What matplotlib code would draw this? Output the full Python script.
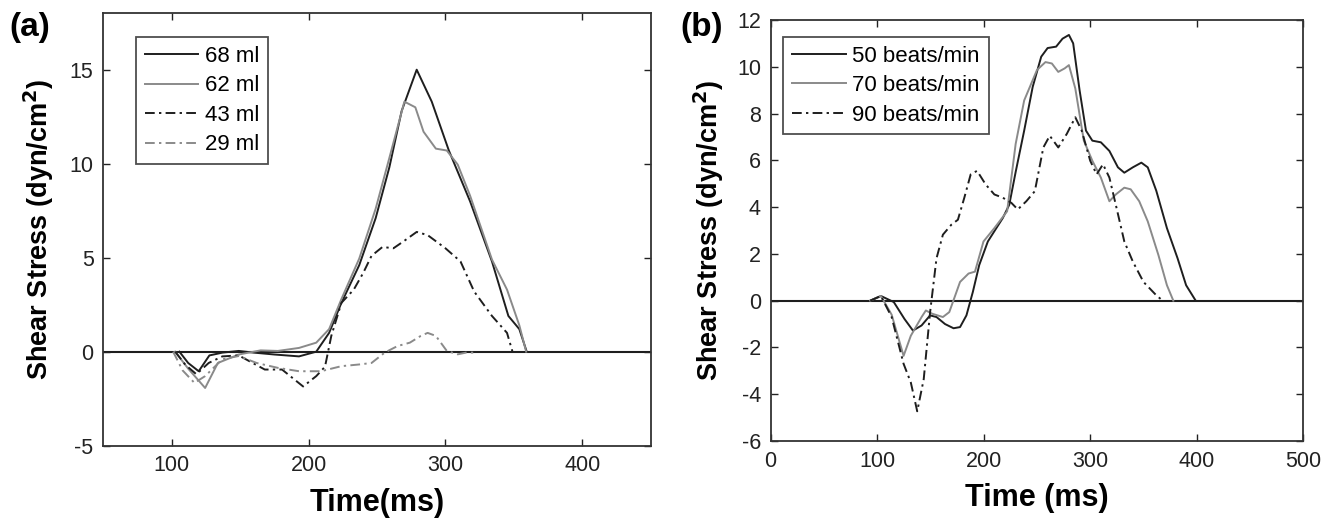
import matplotlib
matplotlib.use("Agg")
import matplotlib.pyplot as plt

plt.rcParams['font.family'] = ['Liberation Sans', 'DejaVu Sans']
plt.rcParams['axes.unicode_minus'] = False

# ---------------- Panel (a) data ----------------
t68 = [105.6, 112, 119.7, 127.5, 137, 149, 160, 175, 193, 205.6, 215, 224, 237, 249, 259, 268, 279,
       290, 302.5, 318, 334, 346, 354, 359.4]
s68 = [0.0, -0.6, -1.04, -0.2, -0.05, 0.04, -0.05, -0.15, -0.25, 0.0, 1.0, 2.6, 4.6, 7.1, 9.8, 12.8, 15.0,
       13.3, 10.7, 8.0, 4.8, 1.9, 1.2, 0.0]

t62 = [102.5, 112, 124.4, 133.7, 149, 165, 177.5, 193, 205.6, 215, 224, 237, 249, 259, 270, 278, 284,
       293, 301, 309, 318, 334, 345, 354, 359]
s62 = [0.0, -0.9, -1.93, -0.6, -0.15, 0.07, 0.04, 0.2, 0.48, 1.2, 2.8, 4.95, 7.6, 10.3, 13.3, 13.0, 11.7,
       10.8, 10.7, 9.95, 8.3, 4.9, 3.3, 1.4, 0.0]

t43 = [102.5, 110, 118, 127, 137, 149, 168, 180.6, 190, 196, 205.6, 212, 216.6, 224, 233, 240, 246, 254,
       262, 270, 279, 287, 300, 311, 321, 334, 345, 349]
s43 = [0.0, -0.7, -1.2, -0.6, -0.25, -0.2, -0.95, -0.95, -1.5, -1.85, -1.3, -0.8, 0.84, 2.6, 3.3, 4.2,
       5.1, 5.57, 5.5, 5.9, 6.37, 6.2, 5.5, 4.8, 3.2, 1.9, 1.0, 0.0]

t29 = [101, 108, 116.6, 124.4, 137, 149, 162, 177.5, 193, 209, 224, 237, 246, 255.6, 265, 274, 282, 287,
       293, 301, 309, 315, 323]
s29 = [0.0, -1.0, -1.66, -1.3, -0.4, -0.23, -0.6, -0.86, -1.04, -1.04, -0.77, -0.68, -0.6, -0.05, 0.3,
       0.48, 0.84, 1.0, 0.84, 0.04, -0.14, -0.05, -0.05]

labels_a = ['68 ml', '62 ml', '43 ml', '29 ml']

# ---------------- Panel (b) data ----------------
t50 = [93.5, 103.5, 115.6, 125.6, 133.6, 141.7, 149.7, 155.7, 163.7, 171.7, 177.8, 183.8, 189.8, 195.8,
       203.9, 209.9, 217.9, 224, 230, 238, 246, 254, 260, 268, 274, 280, 284, 290, 296, 302, 310, 318,
       326, 332, 340, 348, 354, 362, 372, 382, 390, 399]
s50 = [0.0, 0.2, -0.06, -0.78, -1.28, -1.06, -0.63, -0.7, -1.0, -1.18, -1.13, -0.63, 0.37, 1.52,
       2.53, 2.96, 3.53, 4.1, 5.5, 7.27, 9.14, 10.43, 10.8, 10.86, 11.2, 11.36, 11.0, 9.0, 7.27, 6.84,
       6.77, 6.4, 5.7, 5.47, 5.7, 5.9, 5.7, 4.7, 3.1, 1.81, 0.66, 0.0]

t70 = [93.5, 103.5, 113.6, 124.8, 131.6, 141.7, 145.7, 151.7, 161.7, 167.7, 177.8, 185.8, 191.8, 199.8,
       210, 222, 230, 238, 250, 258, 264, 270, 276, 280, 286, 294, 302, 310, 318, 324, 332, 338, 346,
       354, 364, 372, 378]
s70 = [0.0, 0.2, -0.6, -2.36, -1.5, -0.7, -0.42, -0.56, -0.7, -0.49, 0.8, 1.16, 1.24, 2.53,
       3.1, 3.82, 6.7, 8.56, 9.86, 10.2, 10.14, 9.78, 9.93, 10.07, 9.07, 6.84, 5.98, 5.26, 4.25, 4.54,
       4.83, 4.76, 4.25, 3.39, 1.95, 0.66, 0.0]

t90 = [93.5, 103.5, 113.6, 124.8, 131.6, 137.6, 143.7, 149.7, 155.7, 161.7, 169.7, 175.8, 181.8, 187.8,
       193.8, 201.8, 210, 218, 226, 232, 240, 248, 256, 262, 270, 278, 286, 292, 300, 306, 312, 318,
       324, 332, 340, 350, 362, 368]
s90 = [0.0, 0.2, -0.7, -2.7, -3.5, -4.73, -3.36, -0.49, 1.81, 2.82, 3.25, 3.46, 4.4, 5.4,
       5.55, 4.97, 4.54, 4.4, 4.18, 3.9, 4.25, 4.68, 6.55, 7.05, 6.55, 7.13, 7.84, 7.27, 5.98, 5.4,
       5.83, 5.26, 4.1, 2.53, 1.67, 0.8, 0.23, 0.0]

labels_b = ['50 beats/min', '70 beats/min', '90 beats/min']

DARK = '#1e1e1e'
GRAY = '#8a8a8a'
DASHDOT = (0, (5, 2.2, 1.2, 2.2))

fig = plt.figure(figsize=(13.4, 5.27), dpi=100)
axa = fig.add_axes([0.0771, 0.1543, 0.4085, 0.8205])
axb = fig.add_axes([0.5751, 0.1632, 0.3975, 0.7989])

for ax in (axa, axb):
    ax.axhline(0, color=DARK, lw=1.5, zorder=1)

axa.plot(t68, s68, color=DARK, lw=1.4, label=labels_a[0])
axa.plot(t62, s62, color=GRAY, lw=1.4, label=labels_a[1])
axa.plot(t43, s43, color=DARK, lw=1.4, ls=DASHDOT, label=labels_a[2])
axa.plot(t29, s29, color=GRAY, lw=1.4, ls=DASHDOT, label=labels_a[3])

axb.plot(t50, s50, color=DARK, lw=1.4, label=labels_b[0])
axb.plot(t70, s70, color=GRAY, lw=1.4, label=labels_b[1])
axb.plot(t90, s90, color=DARK, lw=1.4, ls=DASHDOT, label=labels_b[2])

axa.set_xlim(50, 450)
axa.set_ylim(-5, 18)
axa.set_xticks([100, 200, 300, 400])
axa.set_yticks([-5, 0, 5, 10, 15])

axb.set_xlim(0, 500)
axb.set_ylim(-6, 12)
axb.set_xticks([0, 100, 200, 300, 400, 500])
axb.set_yticks([-6, -4, -2, 0, 2, 4, 6, 8, 10, 12])

for ax in (axa, axb):
    ax.tick_params(direction='in', top=True, right=True, length=5, width=1.0,
                   labelsize=15.5, colors='#222222', pad=7)
    for sp in ax.spines.values():
        sp.set_linewidth(1.3)
        sp.set_color('#333333')

axa.set_xlabel('Time(ms)', fontsize=22, fontweight='bold', labelpad=8)
axa.set_ylabel('Shear Stress (dyn/cm$^\\mathbf{2}$)', fontsize=19.5, fontweight='bold', labelpad=10)
axb.set_xlabel('Time (ms)', fontsize=22, fontweight='bold', labelpad=8)
axb.set_ylabel('Shear Stress (dyn/cm$^\\mathbf{2}$)', fontsize=19.5, fontweight='bold', labelpad=8)

leg_kw = dict(fontsize=16, frameon=True, fancybox=False, edgecolor='#222222',
              handlelength=2.4, handletextpad=0.3, labelspacing=0.38, borderpad=0.4,
              borderaxespad=0.0)
la = axa.legend(loc='upper left', bbox_to_anchor=(0.06, 0.945), **leg_kw)
lb = axb.legend(loc='upper left', bbox_to_anchor=(0.024, 0.96), **leg_kw)
for lg in (la, lb):
    lg.get_frame().set_linewidth(1.3)

fig.text(0.007, 0.978, '(a)', fontsize=24, fontweight='bold', va='top', ha='left')
fig.text(0.508, 0.978, '(b)', fontsize=24, fontweight='bold', va='top', ha='left')

fig.savefig('out.png', dpi=100)
